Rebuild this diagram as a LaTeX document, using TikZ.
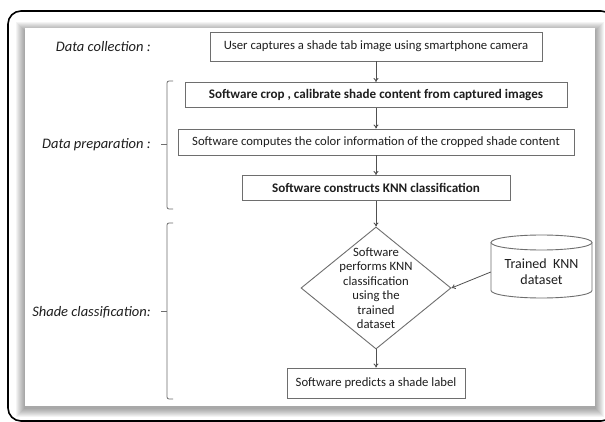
\documentclass[tikz,border=0pt]{standalone}
\usepackage{fontspec}
\setmainfont{Carlito}
\usetikzlibrary{shapes.geometric,arrows.meta}
\definecolor{boxline}{HTML}{6E6E6E}
\definecolor{arrowc}{HTML}{505050}
\definecolor{txt}{HTML}{1E1E1E}
\tikzset{
  procbox/.style={draw=boxline, line width=0.9pt, fill=white, inner sep=0pt, text=txt,
    font=\fontsize{12.7}{14.5}\selectfont},
  boldbox/.style={procbox, font=\fontsize{13.1}{14.5}\selectfont\bfseries},
  flow/.style={draw=arrowc, line width=0.8pt, -{To[length=4pt,width=5pt]}},
  brace/.style={draw=boxline, line width=0.8pt, rounded corners=2pt},
  phase/.style={anchor=east, inner sep=0pt, text=txt, font=\fontsize{14.5}{16}\selectfont\itshape},
}
\begin{document}
\begin{tikzpicture}[x=1pt,y=-1pt]
\useasboundingbox (0,0) rectangle (605,422);
\fill[white] (0,0) rectangle (605,422);
% outer frame
\draw[black, line width=1.6pt, rounded corners=13pt] (8,11) rectangle (614,421);
% panel shadow
\foreach \i in {1,...,9}
  \fill[black, opacity=0.045] (25-\i,28-\i+3) rectangle (595+\i,406+\i+2);
\fill[white] (25,28) rectangle (595,406);

% phase labels and brackets
\node[phase] (l1) at (151,47) {Data collection :};
\node[phase] (l2) at (151,145) {Data preparation :};
\node[phase] (l3) at (151,312) {Shade classification:};
\draw[brace] (173,81) -- (167,81) -- (167,209) -- (173,209);
\draw[brace] (173,223) -- (167,223) -- (167,399) -- (173,399);
\coordinate (t1a) at (161,144);
\coordinate (t1b) at (167,144);
\coordinate (t2a) at (161,311);
\coordinate (t2b) at (167,311);
\draw[draw=boxline, line width=0.8pt] (t1a) -- (t1b);
\draw[draw=boxline, line width=0.8pt] (t2a) -- (t2b);

% process boxes
\node[procbox, minimum width=332pt, minimum height=29pt] (b1) at (376,46.5)
  {User captures a shade tab image using smartphone camera};
\node[boldbox, minimum width=382pt, minimum height=25pt] (b2) at (376,95)
  {Software crop , calibrate shade content from captured images};
\node[procbox, minimum width=396pt, minimum height=26pt] (b3) at (376,142)
  {Software computes the color information of the cropped shade content};
\node[boldbox, minimum width=268pt, minimum height=25pt] (b4) at (376,188)
  {Software constructs KNN classification};
\node[draw=boxline, line width=0.9pt, diamond, minimum width=150pt, minimum height=122pt,
  inner sep=0pt] (d) at (376,288) {};
\node[align=center, text=txt, font=\fontsize{12.7}{14.5}\selectfont, inner sep=0pt] (dt) at (d)
  {Software\\performs KNN\\classification\\using the\\trained\\dataset};
\node[procbox, minimum width=178pt, minimum height=30pt] (b5) at (376,383)
  {Software predicts a shade label};

% database cylinder
\draw[draw=boxline, line width=0.9pt, fill=white]
  (491,242.5) -- (491,290.5) arc[start angle=180, end angle=360, x radius=50.5pt, y radius=7.5pt]
  -- (592,242.5);
\draw[draw=boxline, line width=0.9pt, fill=white] (541.5,242.5) ellipse[x radius=50.5pt, y radius=7.5pt];
\node[align=center, text=txt, font=\fontsize{14}{16}\selectfont, inner sep=0pt,
  minimum width=101pt, minimum height=56pt] (cyl) at (541.5,272) {Trained\ \ KNN\\dataset};

% connectors
\draw[flow] (b1) -- (b2);
\draw[flow] (b2) -- (b3);
\draw[flow] (b3) -- (b4);
\draw[flow] (b4) -- (d.north);
\draw[flow] (d.south) -- (b5);
\draw[flow] (cyl.west) -- (d.east);
\end{tikzpicture}
\end{document}
